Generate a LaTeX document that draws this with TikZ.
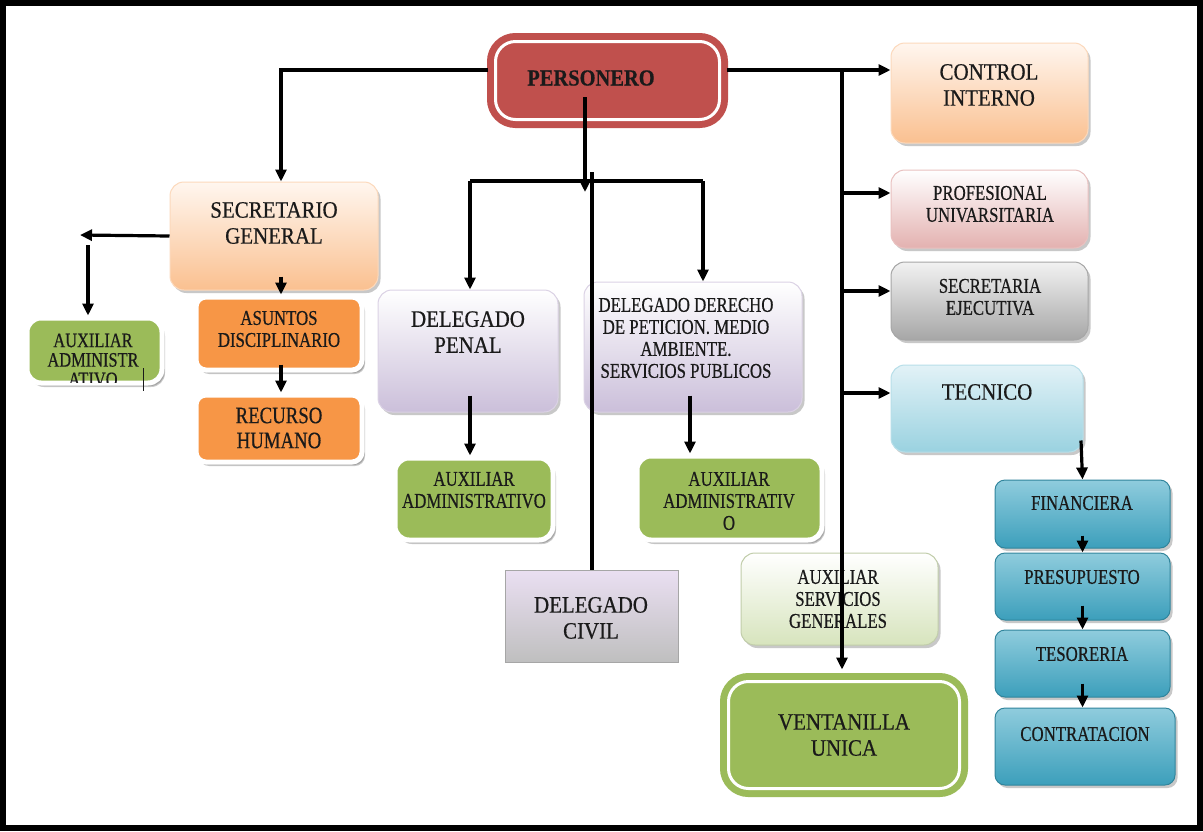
\documentclass[tikz,border=0pt]{standalone}
\usepackage{fontspec}
\setmainfont{Liberation Serif}
\newfontfamily\fbigfam{Liberation Serif}[FakeStretch=0.89,FakeBold=0.5]
\newfontfamily\fsmlfam{Liberation Serif}[FakeStretch=0.80,FakeBold=0.5]
\usetikzlibrary{arrows.meta,shadows}
\definecolor{pred}{HTML}{C0504D}
\definecolor{peach}{HTML}{FAC090}
\definecolor{peachl}{HTML}{FFF6EF}
\definecolor{pinkb}{HTML}{E3B1B0}
\definecolor{grayb}{HTML}{A6A6A6}
\definecolor{tecl}{HTML}{E2F2F7}
\definecolor{tecb}{HTML}{9AD2E0}
\definecolor{bluet}{HTML}{8FCCDD}
\definecolor{blueb}{HTML}{3C9FBB}
\definecolor{blued}{HTML}{31859C}
\definecolor{grn}{HTML}{9BBB59}
\definecolor{orng}{HTML}{F79646}
\definecolor{lav}{HTML}{CBBFDA}
\definecolor{lgrn}{HTML}{D7E4BD}
\definecolor{civt}{HTML}{EADFF2}
\definecolor{civb}{HTML}{BFBFBF}
\definecolor{ink}{HTML}{1A1A1A}
\begin{document}
\begin{tikzpicture}[x=1pt,y=-1pt,
  arr/.style={line width=3.2pt,-{Triangle[length=12pt,width=11pt]}},
  ln/.style={line width=3.2pt},
  soft/.style={rounded corners=14pt,inner sep=0pt,
    drop shadow={shadow xshift=2.5pt,shadow yshift=-3pt,opacity=0.3,fill=black!70}},
  grad/.style n args={3}{soft,top color=#1,bottom color=#2,draw=#3,line width=1pt},
  flat/.style={soft,fill=#1,draw=white,line width=5pt,
    drop shadow={shadow xshift=3pt,shadow yshift=-4pt,opacity=0.35,fill=black!60}},
  ring/.style={rounded corners=20pt,inner sep=0pt,fill=#1,draw=#1,line width=7pt,
    double=white,double distance=3pt},
  txt/.style={align=center,inner sep=0pt,text=ink},
  fA/.style={font=\fbigfam\fontsize{23.5}{26}\selectfont},
  fB/.style={font=\fsmlfam\fontsize{21}{22}\selectfont},
  fC/.style={font=\fsmlfam\fontsize{20.5}{19.5}\selectfont},
  fD/.style={font=\fsmlfam\fontsize{23.5}{25}\selectfont},
]
\useasboundingbox (0,0) rectangle (1203,831);
\fill[white] (0,0) rectangle (1203,831);
\draw[line width=6pt] (3,3) rectangle (1200,828);

% boxes
\node[ring=pred,minimum width=224pt,minimum height=78pt] (pers) at (607.5,80.5) {};
\node[grad={peachl}{peach}{peach!60},minimum width=197pt,minimum height=100pt] (ci) at (989.5,93) {};
\node[grad={white}{pinkb}{pinkb!80},minimum width=197pt,minimum height=78pt] (prof) at (989.5,209) {};
\node[grad={white!95!black}{grayb}{grayb},minimum width=197pt,minimum height=78pt] (secej) at (989.5,301) {};
\node[grad={tecl}{tecb}{tecb!70},minimum width=192pt,minimum height=87pt] (tec) at (987,408.5) {};
\node[grad={bluet}{blueb}{blued},rounded corners=10pt,minimum width=175pt,minimum height=68pt] (fin) at (1082.5,514) {};
\node[grad={bluet}{blueb}{blued},rounded corners=10pt,minimum width=175pt,minimum height=67pt] (pres) at (1082.5,586.5) {};
\node[grad={bluet}{blueb}{blued},rounded corners=10pt,minimum width=175pt,minimum height=67pt] (tes) at (1082.5,663.5) {};
\node[grad={bluet}{blueb}{blued},rounded corners=10pt,minimum width=180pt,minimum height=77pt] (contr) at (1085,746.5) {};
\node[grad={peachl}{peach}{peach!60},minimum width=208pt,minimum height=108pt] (sg) at (274,236) {};
\node[flat=grn,minimum width=135pt,minimum height=65pt] (auxl) at (94.5,350.5) {};
\node[flat=orng,rounded corners=10pt,minimum width=166pt,minimum height=73pt] (asun) at (279,333.5) {};
\node[flat=orng,rounded corners=10pt,minimum width=166pt,minimum height=67pt] (rec) at (279,428.5) {};
\node[grad={white}{lav}{lav!70},minimum width=180pt,minimum height=122pt] (dp) at (468,351) {};
\node[grad={white}{lav}{lav!70},minimum width=218pt,minimum height=130pt] (dd) at (693,347) {};
\node[flat=grn,minimum width=158pt,minimum height=82pt] (auxm) at (474,499) {};
\node[flat=grn,minimum width=185pt,minimum height=84pt] (auxr) at (729.5,498) {};
\node[inner sep=0pt,top color=civt,bottom color=civb,draw=gray!70,line width=1pt,
  minimum width=173pt,minimum height=92pt] (dc) at (591.5,616) {};
\node[grad={white}{lgrn}{lgrn!90!black},minimum width=197pt,minimum height=92pt] (asg) at (839.5,599) {};
\node[ring=grn,minimum width=231pt,minimum height=107pt] (vu) at (844,735) {};

% texts
\node[txt,font=\fbigfam\bfseries\fontsize{23}{26}\selectfont] (tpers) at (591,78) {PERSONERO};
\node[txt,fA] (tci) at (989,85) {CONTROL\\INTERNO};
\node[txt,fB] (tprof) at (990,204) {PROFESIONAL\\UNIVARSITARIA};
\node[txt,fB] (tsecej) at (990,297) {SECRETARIA\\EJECUTIVA};
\node[txt,fA] (ttec) at (987,392) {TECNICO};
\node[txt,fB] (tfin) at (1082,503) {FINANCIERA};
\node[txt,fB] (tpres) at (1082,577) {PRESUPUESTO};
\node[txt,fB] (ttes) at (1082,654) {TESORERIA};
\node[txt,fB] (tcontr) at (1085,734) {CONTRATACION};
\node[txt,fA] (tsg) at (274,223) {SECRETARIO\\GENERAL};
\begin{scope}
\clip (27,318) rectangle (162,382);
\node[txt,fC] (tauxl) at (93,360) {AUXILIAR\\ADMINISTR\\ATIVO};
\end{scope}
\draw[line width=0.8pt,ink] (143,368) -- (143,391);
\node[txt,fB] (tasun) at (279,329) {ASUNTOS\\DISCIPLINARIO};
\node[txt,fD] (trec) at (279,428) {RECURSO\\HUMANO};
\node[txt,fA] (tdp) at (468,332) {DELEGADO\\PENAL};
\node[txt,fB] (tdd) at (686,338) {DELEGADO DERECHO\\DE PETICION. MEDIO\\AMBIENTE.\\SERVICIOS PUBLICOS};
\node[txt,fB] (tauxm) at (474,490) {AUXILIAR\\ADMINISTRATIVO};
\begin{scope}
\clip (637,456) rectangle (822,529);
\node[txt,fB] (tauxr) at (729,501) {AUXILIAR\\ADMINISTRATIV\\O};
\end{scope}
\node[txt,fA] (tdc) at (591,618) {DELEGADO\\CIVIL};
\node[txt,fB] (tasg) at (838,599) {AUXILIAR\\SERVICIOS\\GENERALES};
\node[txt,fA] (tvu) at (844,735) {VENTANILLA\\UNICA};

% connectors
\coordinate (jr) at (842,70);
\coordinate (b1) at (842,193);
\coordinate (b2) at (842,291);
\coordinate (b3) at (842,393);
\coordinate (bl) at (470,181);
\coordinate (br) at (703,181);
\coordinate (pd) at (585,192);
\coordinate (cv) at (592,172);
\coordinate (sgl) at (80,235);
\coordinate (al) at (88,245);
\coordinate (sgx) at (281,70);
\draw[arr] ([xshift=-4pt,yshift=10.5pt]pers.west) -- (sgx) -- (sgx |- sg.north);
\draw[arr] ([xshift=4pt,yshift=10.5pt]pers.east) -- (jr -| ci.west);
\draw[arr] (jr) -- ([yshift=8.5pt]vu.north -| jr);
\draw[arr] (b1) -- (b1 -| prof.west);
\draw[arr] (b2) -- (b2 -| secej.west);
\draw[arr] (b3) -- (b3 -| tec.west);
\draw[arr] ([xshift=-22.5pt,yshift=-16.5pt]pers.center) -- (pd);
\draw[ln] (bl) -- (br);
\draw[arr] (bl) -- (bl |- dp.north);
\draw[arr] (br) -- (br |- dd.north);
\draw[ln] (cv) -- (cv |- dc.north);
\draw[arr] (sg.west) -- (sgl);
\draw[arr] (al) -- (al |- auxl.north);
\draw[arr] ([xshift=7pt,yshift=14pt]sg.south) -- ([xshift=2pt]asun.north);
\draw[arr] ([xshift=2pt,yshift=8pt]asun.south) -- ([xshift=2pt]rec.north);
\draw[arr] ([xshift=2pt,yshift=17pt]dp.south) -- ([xshift=-4pt]auxm.north);
\draw[arr] ([xshift=-3pt,yshift=17pt]dd.south) -- ([xshift=-39.5pt]auxr.north);
\draw[arr] ([xshift=-1.5pt,yshift=12pt]tec.south -| fin.north) -- (fin.north);
\draw[arr] ([yshift=13pt]fin.south) -- (pres.north);
\draw[arr] ([yshift=15pt]pres.south) -- (tes.north);
\draw[arr] ([yshift=14pt]tes.south) -- ([xshift=-2.5pt]contr.north);
\end{tikzpicture}
\end{document}
